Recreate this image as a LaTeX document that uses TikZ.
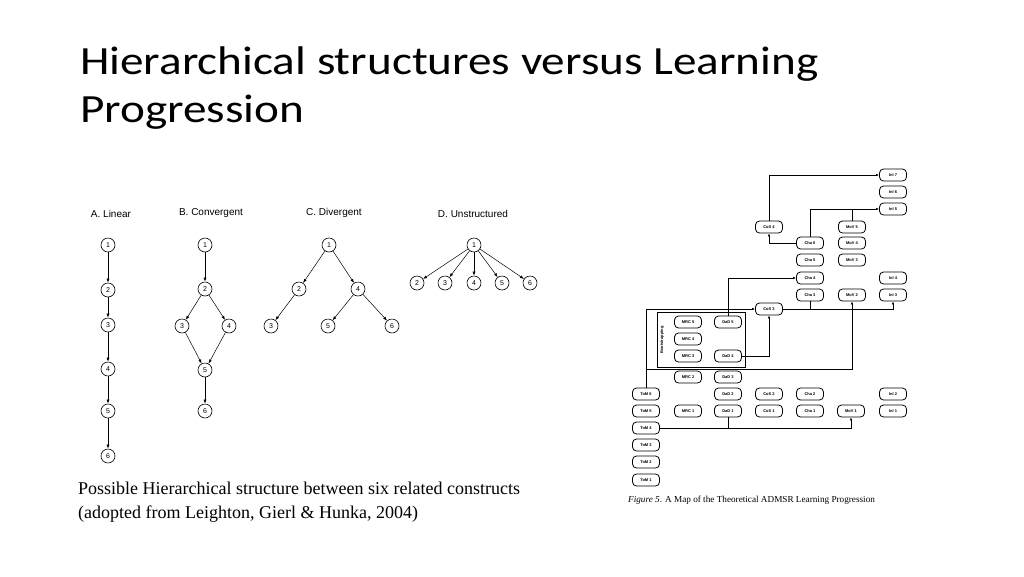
\documentclass[tikz,border=0pt]{standalone}
\usepackage{fontspec}
\setmainfont{Liberation Serif}
\newfontfamily\titlefont{Carlito}
\newfontfamily\hel{Liberation Sans}
\usetikzlibrary{arrows.meta}
\begin{document}
\begin{tikzpicture}[x=1pt,y=-1pt,
  cn/.style={circle,draw,line width=0.6pt,inner sep=0pt,minimum size=14pt,font=\hel\fontsize{7}{7}\selectfont},
  ar/.style={-{Latex[length=4pt,width=3pt]},line width=0.5pt},
  ttl/.style={font=\hel\fontsize{10}{10}\selectfont},
  rb/.style={draw,rounded corners=4pt,line width=0.8pt,minimum width=27pt,minimum height=12pt,inner sep=0pt,font=\hel\bfseries\fontsize{4}{4}\selectfont},
  ln/.style={line width=0.7pt},
  la/.style={line width=0.7pt,-{Latex[length=3pt,width=2.5pt]}}]
\useasboundingbox (0,0) rectangle (1024,576);
\node[anchor=base west,inner sep=0pt,font=\titlefont\fontsize{40}{40}\selectfont] (t1) at (80,74) {\scalebox{1.18}[1]{Hierarchical structures versus Learning}};
\node[anchor=base west,inner sep=0pt,font=\titlefont\fontsize{40}{40}\selectfont] (t2) at (80,122) {\scalebox{1.18}[1]{Progression}};
\node[anchor=base west,inner sep=0pt,font=\fontsize{18}{18}\selectfont] (c1) at (78,494) {Possible Hierarchical structure between six related constructs};
\node[anchor=base west,inner sep=0pt,font=\fontsize{18}{18}\selectfont] (c2) at (78,518) {(adopted from Leighton, Gierl \& Hunka, 2004)};
% titles
\node[ttl] (ta) at (111,214) {A. Linear};
\node[ttl] (tb) at (211,213) {B. Convergent};
\node[ttl] (tc) at (334,213) {C. Divergent};
\node[ttl] (td) at (473,214) {D. Unstructured};
% A
\foreach \i/\y in {1/245,2/290,3/325,4/369,5/411,6/456} \node[cn] (a\i) at (108,\y) {\i};
\foreach \i/\j in {1/2,2/3,3/4,4/5,5/6} \draw[ar] (a\i) -- (a\j);
% B
\node[cn] (b1) at (205,245) {1}; \node[cn] (b2) at (205,289) {2};
\node[cn] (b3) at (182,326) {3}; \node[cn] (b4) at (229,326) {4};
\node[cn] (b5) at (205,370) {5}; \node[cn] (b6) at (205,411) {6};
\foreach \i/\j in {1/2,2/3,2/4,3/5,4/5,5/6} \draw[ar] (b\i) -- (b\j);
% C
\node[cn] (c1n) at (329,245) {1}; \node[cn] (c2n) at (299,289) {2};
\node[cn] (c4n) at (358,289) {4}; \node[cn] (c3n) at (271,326) {3};
\node[cn] (c5n) at (328,326) {5}; \node[cn] (c6n) at (392,326) {6};
\foreach \i/\j in {1/2,1/4,2/3,4/5,4/6} \draw[ar] (c\i n) -- (c\j n);
% D
\node[cn] (d1) at (474,245) {1};
\foreach \i/\x in {2/417,3/445,4/474,5/502,6/530} {\node[cn] (d\i) at (\x,283) {\i}; \draw[ar] (d1) -- (d\i);}
% Right figure
\draw[line width=0.8pt] (657,312) rectangle (745,367);
\node[rotate=90,font=\hel\bfseries\fontsize{4}{4}\selectfont] (bs) at (662,340) {Bootstrapping};
\foreach \n/\x/\y in {InI 7/893/175,InI 6/893/192,InI 5/893/209,CoS 4/769/227,Cha 6/810/243,Cha 5/810/260,Cha 4/810/278,Cha 3/810/295,MoV 5/852/227,MoV 4/852/243,MoV 3/852/260,InI 4/893/278,InI 3/893/295,MoV 2/852/295,CoS 3/769/309,MRC 5/688/322,DaD 5/728/322,MRC 4/688/339,MRC 3/688/356,DaD 4/728/356,MRC 2/688/377,DaD 3/728/377,ToM 6/646/394,ToM 5/646/411,ToM 4/646/428,ToM 3/646/445,ToM 2/646/462,ToM 1/646/480,DaD 2/728/394,CoS 2/769/394,Cha 2/810/394,InI 2/893/394,MRC 1/688/411,DaD 1/728/411,CoS 1/769/411,Cha 1/810/411,MoV 1/851/411,InI 1/893/411}
  {\node[rb] (\n) at (\x,\y) {\n};}
\draw[la] (CoS 4.north) |- (InI 7.west);
\draw[la] (Cha 6.west) -| (CoS 4.south);
\draw[la] (Cha 6.north) |- (InI 5.west);
\draw[ln] (MoV 5.north) -- (MoV 5.north |- InI 5.west);
\draw[la] (DaD 5.north) |- (Cha 4.west);
\draw[la] (CoS 3.east) -| (InI 3.south);
\draw[ln] (Cha 3.south) -- (Cha 3.south |- CoS 3.east);
\draw[la] (ToM 6.north) |- (CoS 3.west);
\draw[la] (DaD 4.east) -| (CoS 3.south);
\coordinate (mv) at (647,369);
\draw[la] (mv) -| (MoV 2.south);
\draw[la] (ToM 4.east) -| (MoV 1.south);
\draw[ln] (DaD 1.south) -- (DaD 1.south |- ToM 4.east);
\node[anchor=base west,inner sep=0pt,font=\fontsize{9.2}{9.2}\selectfont] (fc) at (628,502) {\textit{Figure 5}. A Map of the Theoretical ADMSR Learning Progression};
\end{tikzpicture}
\end{document}
